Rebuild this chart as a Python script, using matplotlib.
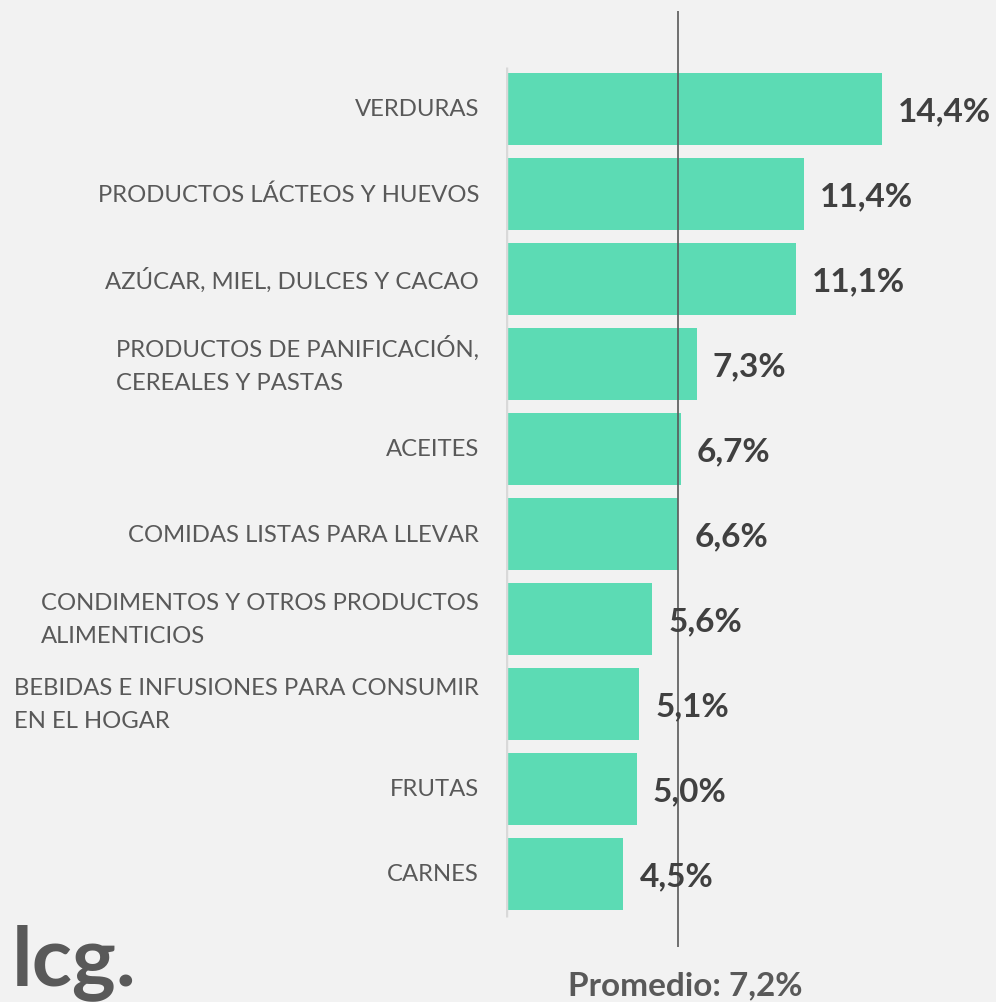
import matplotlib.pyplot as plt

# data
categorias = [
    "VERDURAS",
    "PRODUCTOS LÁCTEOS Y HUEVOS",
    "AZÚCAR, MIEL, DULCES Y CACAO",
    "PRODUCTOS DE PANIFICACIÓN,\nCEREALES Y PASTAS",
    "ACEITES",
    "COMIDAS LISTAS PARA LLEVAR",
    "CONDIMENTOS Y OTROS PRODUCTOS\nALIMENTICIOS",
    "BEBIDAS E INFUSIONES PARA CONSUMIR\nEN EL HOGAR",
    "FRUTAS",
    "CARNES",
]
valores = [14.4, 11.4, 11.1, 7.3, 6.7, 6.6, 5.6, 5.1, 5.0, 4.5]
promedio = 7.2
pos_linea = 6.6  # where the reference draws the average line

fondo = "#f2f2f2"
verde = "#5cdbb4"
gris = "#595959"
oscuro = "#404040"

plt.rcParams['font.family'] = ['Lato', 'DejaVu Sans']

fig = plt.figure(figsize=(9.96, 10.03), dpi=100, facecolor=fondo)
W, H = 996, 1003
ax = fig.add_axes([506 / W, 1 - 948 / H, 490 / W, 936 / H])
ax.set_facecolor(fondo)

y = list(range(len(valores)))
ax.barh(y, valores, height=0.85, color=verde, zorder=2)
ax.set_xlim(0, 490 / 26.1)
ax.set_ylim((948 - 110) / 85, (12 - 110) / 85)

ax.vlines(0, -0.5, len(valores) - 0.5, color="#d9d9d9", lw=2.5, zorder=3)
ax.axvline(pos_linea, color=gris, lw=1.2, zorder=4)

for i, (cat, v) in enumerate(zip(categorias, valores)):
    ax.text(-27 / 26.1, i, cat, ha="right", va="center", multialignment="left",
            fontsize=17.2, color=gris, linespacing=1.75)
    ax.text(v + 16 / 26.1, i + 0.02, f"{v:.1f}%".replace(".", ","), ha="left", va="center",
            fontsize=24, fontweight="bold", color=oscuro, zorder=5)

for s in ax.spines.values():
    s.set_visible(False)
ax.set_xticks([])
ax.set_yticks([])

fig.text(12 / W, 1 - 963 / H, "lcg.", fontsize=60, fontweight="bold", color=gris,
         ha="left", va="center")
fig.text(685 / W, 1 - 986 / H, f"Promedio: {promedio:.1f}%".replace(".", ","),
         fontsize=24, fontweight="bold", color=gris, ha="center", va="center")

fig.savefig("out.png", dpi=100, facecolor=fondo)
